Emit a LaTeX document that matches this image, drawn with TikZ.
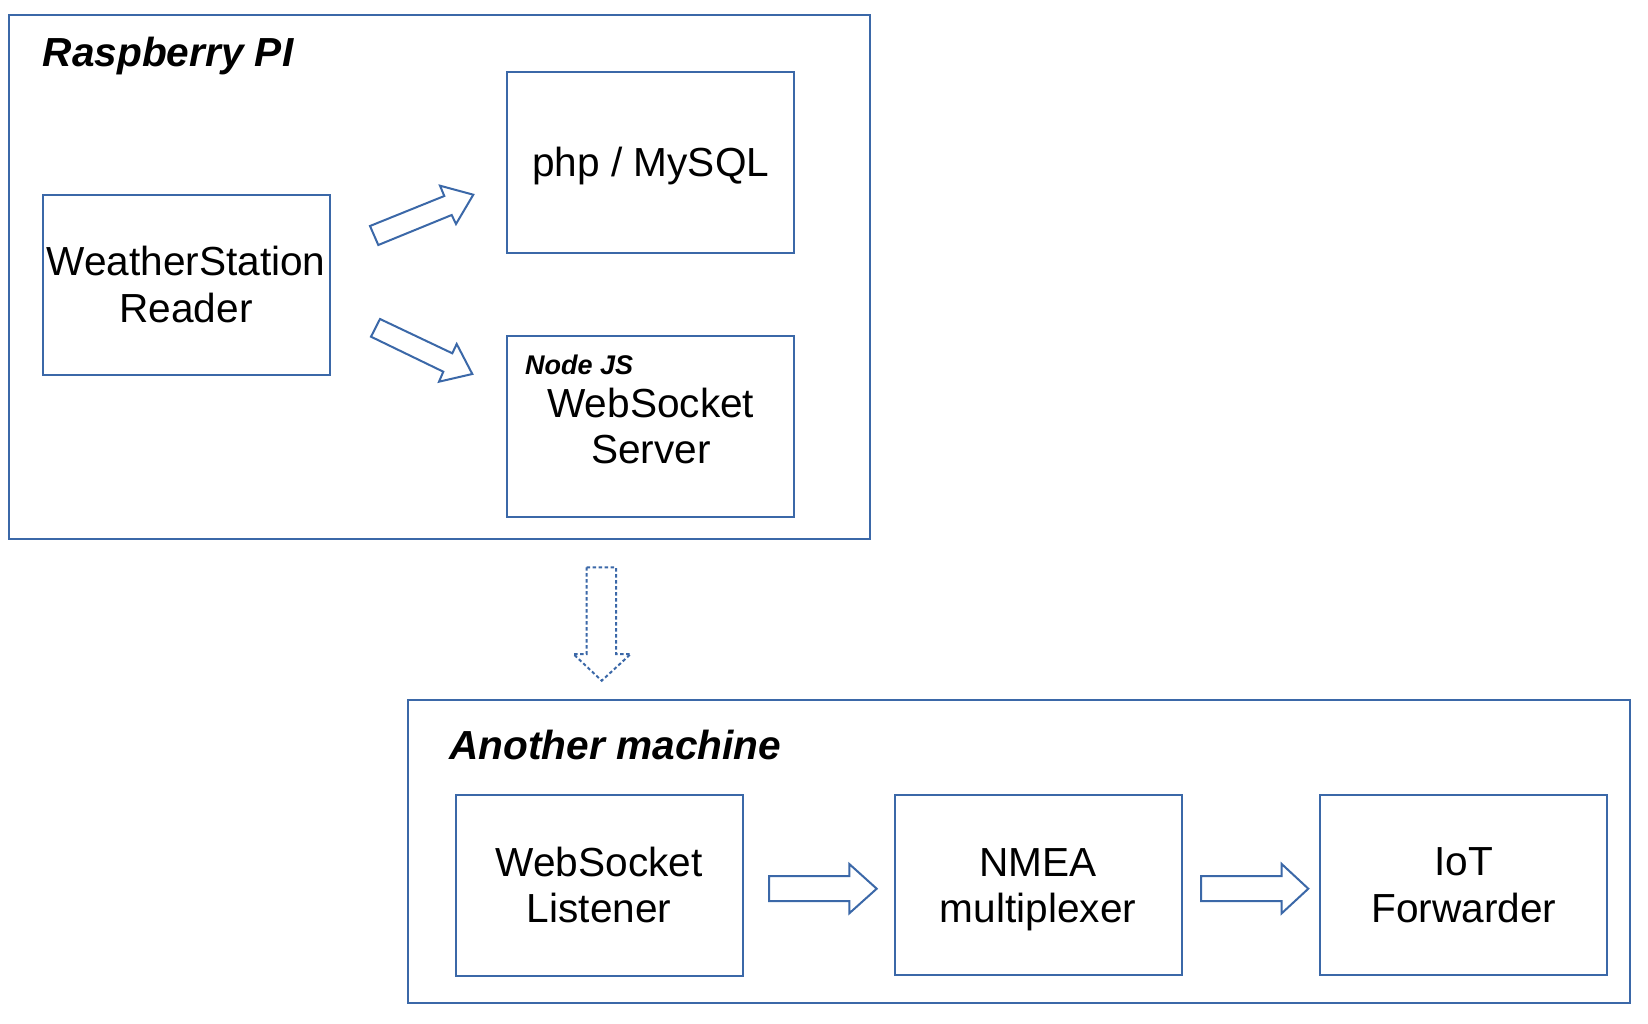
\documentclass[tikz,border=0pt]{standalone}
\usepackage{fontspec}
\setmainfont{Liberation Sans}
\definecolor{lo}{HTML}{3B68A8}
\newcommand\tstrut{\rule{0pt}{0.92em}}
\newcommand\bstrut{\rule[-0.23em]{0pt}{0pt}}
\begin{document}
\begin{tikzpicture}[x=1pt,y=-1pt,
  container/.style={draw=lo, line width=2pt, inner sep=0pt},
  box/.style={draw=lo, line width=2pt, inner sep=0pt, align=center,
    minimum width=287pt, minimum height=180.5pt,
    font=\fontsize{40.6}{46.4}\selectfont},
  blockarrow/.style={draw=lo, line width=2pt, line join=miter, fill=white},
  title/.style={anchor=base west, inner sep=0pt,
    font=\fontsize{40.6}{46.4}\selectfont\bfseries\itshape}]
\useasboundingbox (0,0) rectangle (1648,1024);
\fill[white] (0,0) rectangle (1648,1024);

% containers
\node[container, minimum width=860.7pt, minimum height=524.6pt] (rpi) at (439.65,277) {};
\node[container, minimum width=1221.7pt, minimum height=303.3pt] (am) at (1019.15,851.65) {};

% titles
\node[title] (rpititle) at (42.7,66.7) {Raspberry PI};
\node[title] (amtitle) at (449.3,759) {Another machine};

% boxes
\node[box] (ws) at (186,285) {\tstrut WeatherStation\\Reader\bstrut};
\node[box] (php) at (650.8,162.5) {\tstrut php / MySQL\bstrut};
\node[box] (wss) at (650.8,426.7) {\tstrut WebSocket\\Server\bstrut};
\node[anchor=base west, inner sep=0pt, font=\fontsize{27}{30}\selectfont\bfseries\itshape] (njs) at (525,374) {Node JS};
\node[box] (lis) at (599.2,885.4) {\tstrut WebSocket\\Listener\bstrut};
\node[box] (nmea) at (1038,885.2) {\tstrut NMEA\\multiplexer\bstrut};
\node[box] (iot) at (1463.7,885) {\tstrut IoT\\Forwarder\bstrut};

% block arrows inside Raspberry PI
\draw[blockarrow] (378.3,245) -- (370,226) -- (444.3,196) -- (440,185.7) -- (473.3,194.7)
  -- (456,224) -- (451.7,215) -- cycle;
\draw[blockarrow] (380,319) -- (371,336.7) -- (443.3,371.7) -- (439,381.7) -- (472.3,374)
  -- (456.7,344) -- (452.3,353.3) -- cycle;

% dashed arrow between machines
\draw[blockarrow, dash pattern=on 3.5pt off 2.5pt] (586.7,567.3) -- (616,567.3) -- (616,654)
  -- (630.7,654) -- (601.7,680.7) -- (573.3,654) -- (586.7,654) -- cycle;

% block arrows inside Another machine
\draw[blockarrow] (769,876) -- (849.3,876) -- (849.3,864) -- (876.7,888.7) -- (849.3,913.3)
  -- (849.3,901) -- (769,901) -- cycle;
\draw[blockarrow] (1201,876) -- (1281.7,876) -- (1281.7,864) -- (1308.3,888.7) -- (1281.7,913.3)
  -- (1281.7,901) -- (1201,901) -- cycle;
\end{tikzpicture}
\end{document}
